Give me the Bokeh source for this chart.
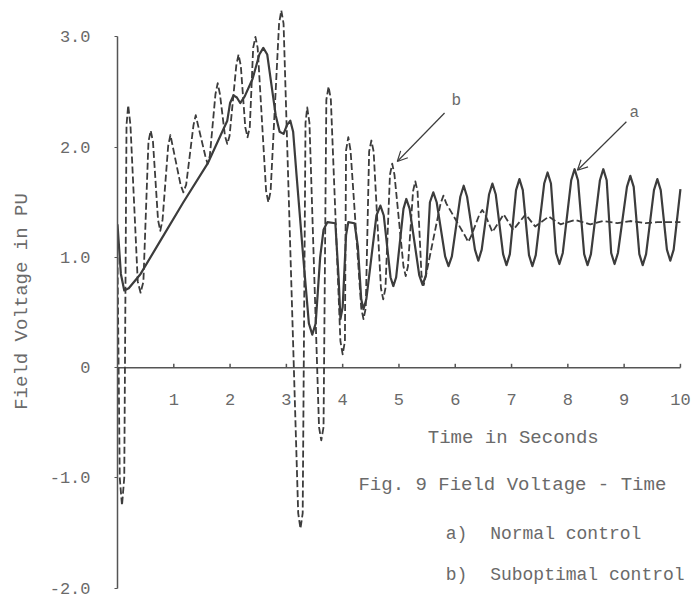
from bokeh.plotting import figure
from bokeh.models import Range1d, FixedTicker, Arrow, OpenHead, Label
from bokeh.embed import file_html
from bokeh.resources import INLINE
from bokeh.core.properties import value

# ---- data ----
# a) Normal control (solid)
t_a = [0.00, 0.06, 0.12, 0.20, 0.41, 0.76, 1.17, 1.60, 1.95, 2.00, 2.06, 2.12, 2.18, 2.26,
       2.40, 2.52, 2.59, 2.66, 2.72, 2.81, 2.88, 2.95, 3.01, 3.07, 3.12, 3.18, 3.30, 3.40,
       3.46, 3.52, 3.60, 3.66, 3.73, 3.87, 3.93, 3.96, 4.00, 4.06, 4.10, 4.21, 4.27, 4.33,
       4.37, 4.42, 4.60, 4.67, 4.73, 4.85, 4.90, 4.95, 5.08, 5.13, 5.19, 5.36, 5.42, 5.48,
       5.55, 5.61, 5.67, 5.82, 5.88, 5.94, 6.09, 6.15, 6.21, 6.35, 6.41, 6.47, 6.60, 6.66,
       6.72, 6.85, 6.91, 6.97, 7.08, 7.14, 7.20, 7.31, 7.37, 7.43, 7.58, 7.64, 7.70, 7.79,
       7.85, 7.91, 8.06, 8.12, 8.18, 8.29, 8.35, 8.41, 8.57, 8.63, 8.69, 8.77, 8.83, 8.89,
       9.05, 9.11, 9.17, 9.27, 9.33, 9.39, 9.53, 9.59, 9.65, 9.76, 9.82, 9.88, 10.00]
v_a = [1.30, 0.85, 0.70, 0.72, 0.85, 1.15, 1.50, 1.85, 2.24, 2.40, 2.47, 2.45, 2.40, 2.46,
       2.62, 2.84, 2.90, 2.84, 2.62, 2.29, 2.14, 2.12, 2.20, 2.24, 2.14, 1.75, 1.00, 0.40,
       0.30, 0.40, 1.00, 1.25, 1.32, 1.31, 0.80, 0.44, 0.55, 1.20, 1.32, 1.31, 1.10, 0.62,
       0.53, 0.62, 1.38, 1.47, 1.38, 0.82, 0.74, 0.82, 1.44, 1.53, 1.44, 0.84, 0.75, 0.84,
       1.50, 1.59, 1.50, 1.01, 0.92, 1.01, 1.55, 1.65, 1.55, 1.07, 0.97, 1.07, 1.57, 1.67,
       1.57, 1.03, 0.93, 1.03, 1.61, 1.71, 1.61, 1.02, 0.92, 1.02, 1.67, 1.77, 1.67, 1.04,
       0.94, 1.04, 1.70, 1.80, 1.70, 1.03, 0.93, 1.03, 1.70, 1.80, 1.70, 1.04, 0.94, 1.04,
       1.64, 1.74, 1.64, 1.03, 0.93, 1.03, 1.61, 1.71, 1.61, 1.07, 0.97, 1.07, 1.62]

# b) Suboptimal control (dashed)
t_b = [0.00, 0.04, 0.08, 0.12, 0.16, 0.19, 0.23, 0.36, 0.41, 0.46, 0.55, 0.59, 0.63, 0.72,
       0.76, 0.80, 0.90, 0.94, 0.98, 1.12, 1.17, 1.22, 1.35, 1.39, 1.43, 1.56, 1.60, 1.64,
       1.74, 1.78, 1.82, 1.91, 1.95, 1.99, 2.11, 2.15, 2.19, 2.27, 2.31, 2.35, 2.41, 2.45,
       2.49, 2.64, 2.68, 2.72, 2.87, 2.91, 2.95, 3.21, 3.25, 3.29, 3.34, 3.37, 3.41, 3.58,
       3.62, 3.66, 3.71, 3.75, 3.79, 3.96, 4.00, 4.04, 4.06, 4.10, 4.14, 4.33, 4.37, 4.41,
       4.47, 4.51, 4.55, 4.68, 4.72, 4.76, 4.84, 4.88, 4.92, 5.08, 5.12, 5.16, 5.25, 5.29,
       5.33, 5.40, 5.44, 5.48, 5.74, 5.79, 5.84, 6.18, 6.23, 6.28, 6.43, 6.48, 6.53, 6.66,
       6.86, 7.03, 7.25, 7.42, 7.66, 7.87, 8.13, 8.40, 8.63, 8.88, 9.11, 9.38, 9.59, 9.82,
       10.00]
v_b = [1.00, -1.00, -1.25, -1.00, 2.20, 2.38, 2.20, 0.78, 0.68, 0.78, 2.05, 2.15, 2.05, 1.34,
       1.24, 1.34, 2.01, 2.11, 2.01, 1.66, 1.59, 1.66, 2.20, 2.29, 2.20, 1.92, 1.85, 1.92,
       2.48, 2.58, 2.48, 2.10, 2.03, 2.10, 2.74, 2.84, 2.74, 2.18, 2.09, 2.18, 2.90, 3.00,
       2.90, 1.60, 1.50, 1.60, 3.12, 3.24, 3.12, -1.32, -1.46, -1.32, 2.22, 2.36, 2.22, -0.54,
       -0.66, -0.54, 2.43, 2.55, 2.43, 0.24, 0.12, 0.24, 1.97, 2.09, 1.97, 0.54, 0.44, 0.54,
       1.96, 2.06, 1.96, 0.72, 0.62, 0.72, 1.75, 1.85, 1.75, 0.92, 0.83, 0.92, 1.60, 1.69,
       1.60, 0.84, 0.75, 0.84, 1.49, 1.56, 1.49, 1.19, 1.14, 1.19, 1.39, 1.43, 1.39, 1.23,
       1.39, 1.25, 1.39, 1.28, 1.37, 1.30, 1.34, 1.30, 1.33, 1.31, 1.33, 1.31, 1.32, 1.32,
       1.32]

x_ticks = [1, 2, 3, 4, 5, 6, 7, 8, 9, 10]
x_tick_labels = ["1", "2", "3", "4", "5", "6", "7", "8", "9", "10"]
y_ticks = [-2, -1, 0, 1, 2, 3]
y_tick_labels = ["-2.0", "-1.0", "0", "1.0", "2.0", "3.0"]

ann_text = ["b", "a"]
ann_tip_t = [4.97, 8.17]
ann_tip_v = [1.87, 1.79]
ann_tail_t = [5.81, 9.04]
ann_tail_v = [2.31, 2.23]
ann_lab_t = [6.02, 9.18]
ann_lab_v = [2.42, 2.31]

INK = "#3c3c3c"
TXT = "#6a6a6a"
FONT = "Liberation Mono"

p = figure(width=694, height=602, output_backend="svg", toolbar_location=None,
           x_range=Range1d(0, 10.25), y_range=Range1d(-2.13, 3.33),
           min_border_left=117, min_border_right=0, min_border_top=0, min_border_bottom=0,
           x_axis_location=None, background_fill_color="white", border_fill_color="white")
p.outline_line_color = None
p.grid.visible = False

ax = p.yaxis[0]
ax.bounds = (-2, 3)
ax.ticker = FixedTicker(ticks=y_ticks)
ax.major_label_overrides = {k: s for k, s in zip(y_ticks, y_tick_labels)}
ax.minor_tick_line_color = None
ax.major_tick_in = 0
ax.major_tick_out = 3
ax.axis_line_color = "#555555"
ax.axis_line_width = 1.5
ax.major_tick_line_color = "#555555"
ax.major_label_standoff = 24
ax.major_label_text_font = FONT
ax.major_label_text_font_size = "17px"
ax.major_label_text_color = TXT
ax.axis_label = "Field Voltage in PU"
ax.axis_label_text_font = FONT
ax.axis_label_text_font_size = "19px"
ax.axis_label_text_font_style = "normal"
ax.axis_label_text_color = TXT
ax.axis_label_standoff = 14

# x axis drawn at v = 0
p.segment(x0=[0], y0=[0], x1=[max(x_ticks)], y1=[0], line_color="#555555", line_width=1.5)
p.segment(x0=x_ticks, y0=[0] * len(x_ticks), x1=x_ticks, y1=[0.035] * len(x_ticks),
          line_color="#555555", line_width=1.5)
p.text(x=x_ticks, y=[0] * len(x_ticks), text=x_tick_labels, y_offset=32,
       text_align="center", text_baseline="middle", text_font=value(FONT),
       text_font_size="17px", text_color=TXT)

# curves
p.line(t_b, v_b, line_color=INK, line_width=1.8, line_dash="7 3", line_join="round")
p.line(t_a, v_a, line_color=INK, line_width=2.2, line_join="round")

# annotations
for lab, x0, y0, x1, y1, lx, ly in zip(ann_text, ann_tail_t, ann_tail_v, ann_tip_t, ann_tip_v,
                                       ann_lab_t, ann_lab_v):
    p.add_layout(Arrow(end=OpenHead(size=10, line_color=INK, line_width=1.2),
                       x_start=x0, y_start=y0, x_end=x1, y_end=y1,
                       line_color=INK, line_width=1.2))
    p.add_layout(Label(x=lx, y=ly, text=lab, text_font=FONT, text_font_size="16px",
                       text_color=TXT, text_align="center", text_baseline="middle"))

captions = [("Time in Seconds", 7.03, -70, "center", "19px"),
            ("Fig. 9 Field Voltage - Time", 4.28, -117, "left", "19px"),
            ("a)", 5.83, -166, "left", "18px"),
            ("Normal control", 6.62, -166, "left", "18px"),
            ("b)", 5.83, -207, "left", "18px"),
            ("Suboptimal control", 6.62, -207, "left", "18px")]
for txt, cx, off, al, fs in captions:
    p.add_layout(Label(x=cx, y=0, y_offset=off, text=txt, text_font=FONT,
                       text_font_size=fs, text_color=TXT, text_align=al,
                       text_baseline="middle"))

open("out.html", "w").write(file_html(p, INLINE))
